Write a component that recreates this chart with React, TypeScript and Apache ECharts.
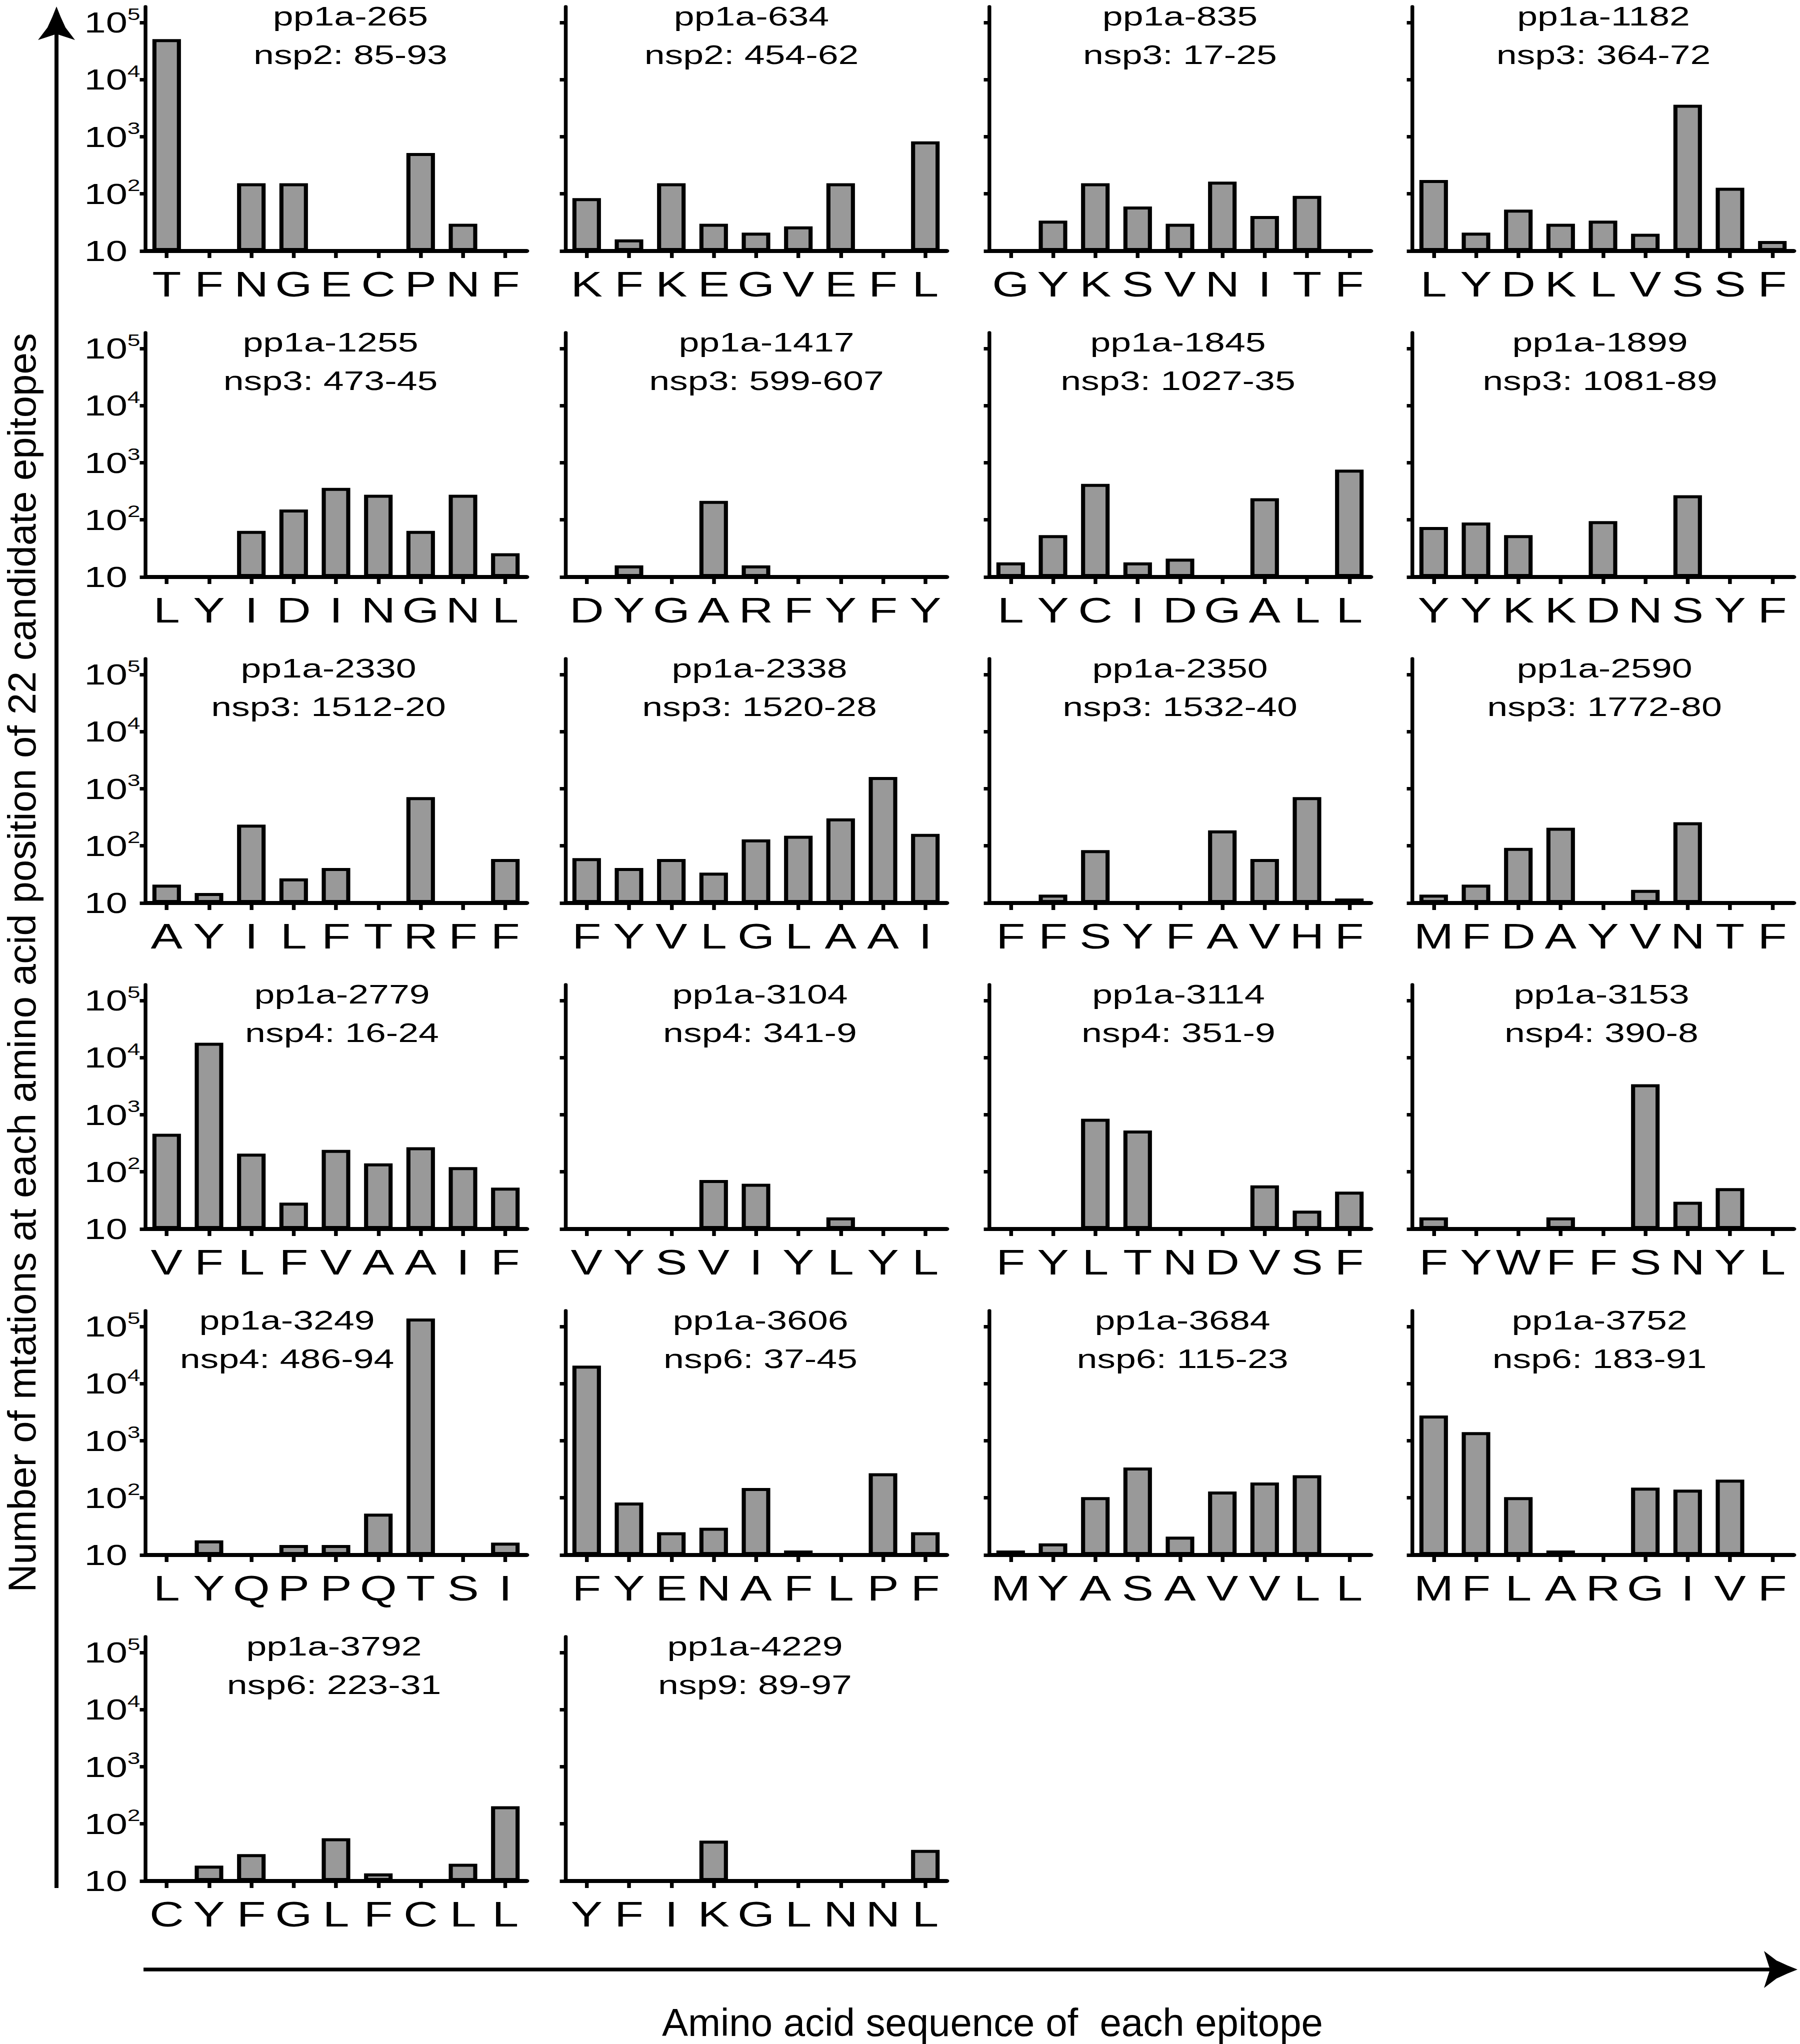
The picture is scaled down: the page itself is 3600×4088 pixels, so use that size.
import React, { useEffect, useRef } from 'react';
import * as echarts from 'echarts';

// ---------------- data ----------------
const epitopeNames = [
  'pp1a-265', 'pp1a-634', 'pp1a-835', 'pp1a-1182',
  'pp1a-1255', 'pp1a-1417', 'pp1a-1845', 'pp1a-1899',
  'pp1a-2330', 'pp1a-2338', 'pp1a-2350', 'pp1a-2590',
  'pp1a-2779', 'pp1a-3104', 'pp1a-3114', 'pp1a-3153',
  'pp1a-3249', 'pp1a-3606', 'pp1a-3684', 'pp1a-3752',
  'pp1a-3792', 'pp1a-4229',
];

const epitopeRanges = [
  'nsp2: 85-93', 'nsp2: 454-62', 'nsp3: 17-25', 'nsp3: 364-72',
  'nsp3: 473-45', 'nsp3: 599-607', 'nsp3: 1027-35', 'nsp3: 1081-89',
  'nsp3: 1512-20', 'nsp3: 1520-28', 'nsp3: 1532-40', 'nsp3: 1772-80',
  'nsp4: 16-24', 'nsp4: 341-9', 'nsp4: 351-9', 'nsp4: 390-8',
  'nsp4: 486-94', 'nsp6: 37-45', 'nsp6: 115-23', 'nsp6: 183-91',
  'nsp6: 223-31', 'nsp9: 89-97',
];

const epitopeResidues = [
  ['T', 'F', 'N', 'G', 'E', 'C', 'P', 'N', 'F'],
  ['K', 'F', 'K', 'E', 'G', 'V', 'E', 'F', 'L'],
  ['G', 'Y', 'K', 'S', 'V', 'N', 'I', 'T', 'F'],
  ['L', 'Y', 'D', 'K', 'L', 'V', 'S', 'S', 'F'],
  ['L', 'Y', 'I', 'D', 'I', 'N', 'G', 'N', 'L'],
  ['D', 'Y', 'G', 'A', 'R', 'F', 'Y', 'F', 'Y'],
  ['L', 'Y', 'C', 'I', 'D', 'G', 'A', 'L', 'L'],
  ['Y', 'Y', 'K', 'K', 'D', 'N', 'S', 'Y', 'F'],
  ['A', 'Y', 'I', 'L', 'F', 'T', 'R', 'F', 'F'],
  ['F', 'Y', 'V', 'L', 'G', 'L', 'A', 'A', 'I'],
  ['F', 'F', 'S', 'Y', 'F', 'A', 'V', 'H', 'F'],
  ['M', 'F', 'D', 'A', 'Y', 'V', 'N', 'T', 'F'],
  ['V', 'F', 'L', 'F', 'V', 'A', 'A', 'I', 'F'],
  ['V', 'Y', 'S', 'V', 'I', 'Y', 'L', 'Y', 'L'],
  ['F', 'Y', 'L', 'T', 'N', 'D', 'V', 'S', 'F'],
  ['F', 'Y', 'W', 'F', 'F', 'S', 'N', 'Y', 'L'],
  ['L', 'Y', 'Q', 'P', 'P', 'Q', 'T', 'S', 'I'],
  ['F', 'Y', 'E', 'N', 'A', 'F', 'L', 'P', 'F'],
  ['M', 'Y', 'A', 'S', 'A', 'V', 'V', 'L', 'L'],
  ['M', 'F', 'L', 'A', 'R', 'G', 'I', 'V', 'F'],
  ['C', 'Y', 'F', 'G', 'L', 'F', 'C', 'L', 'L'],
  ['Y', 'F', 'I', 'K', 'G', 'L', 'N', 'N', 'L'],
];

const mutationCounts = [
  [51000, null, 153, 153, null, null, 520, 30, null],
  [84, 16, 153, 30, 21, 27, 153, null, 830],
  [null, 34, 153, 60, 30, 164, 41, 92, null],
  [175, 21, 53, 30, 34, 20, 3630, 128, 15],
  [null, null, 64, 152, 363, 275, 64, 275, 26],
  [null, 16, null, 215, 16, null, null, null, null],
  [18, 54, 427, 18, 21, null, 239, null, 757],
  [75, 90, 54, null, 95, null, 270, null, null],
  [21, 15, 235, 27, 41, null, 712, null, 59],
  [61, 41, 59, 34, 130, 150, 303, 1600, 162],
  [null, 14, 84, null, null, 187, 59, 712, 12],
  [14, 21, 92, 207, null, 17, 259, null, null],
  [464, 18200, 208, 29, 243, 141, 269, 121, 53],
  [null, null, null, 72, 62, null, 16, null, null],
  [null, null, 852, 530, null, null, 58, 21, 45],
  [16, null, null, 16, null, 3414, 30, 52, null],
  [null, 18, null, 15, 15, 53, 137700, null, 16.5],
  [20600, 83, 25, 30, 149, 12, null, 269, 25],
  [12, 16, 103, 340, 21, 129, 186, 249, null],
  [2760, 1416, 103, 12, null, 151, 139, 209, null],
  [null, 18.6, 29.6, null, 56, 13.6, null, 20, 203],
  [null, null, null, 51, null, null, null, null, 35],
];

const yTickValues = [10, 100, 1000, 10000, 100000];
const yMin = 10;
const yMax = 190000;

const yAxisTitle = 'Number of mtations at each amino acid position of 22 candidate epitopes';
const xAxisTitle = 'Amino acid sequence of  each epitope';

// ---------------- layout (reference pixels) ----------------
const K = 1.36; // horizontal stretch of the panels
const PAGE_W = 3600;
const PAGE_H = 4088;
const CHART_W = PAGE_W / K;
const colLeft = [291, 1131, 1979, 2825];
const plotW = 762;
const rowBase0 = 502;
const rowPitch = 652;
const plotH = 489;
const titleShift = [29, -9, 0, 1, -11, 21, -4, -6, -15, 7, 0, 3, 12, 8, -3, -3, -98, 9, 5, -7, -4, -2];

const FONT = "'Liberation Sans', Arial, Helvetica, sans-serif";

function buildOption() {
  const grid: any[] = [];
  const xAxis: any[] = [];
  const yAxis: any[] = [];
  const series: any[] = [];
  const graphic: any[] = [];

  epitopeNames.forEach((name, i) => {
    const r = Math.floor(i / 4);
    const c = i % 4;
    const base = rowBase0 + rowPitch * r;
    grid.push({
      left: colLeft[c] / K,
      top: base - plotH,
      width: plotW / K,
      height: plotH,
      containLabel: false,
      outerBoundsMode: 'none',
    });
    xAxis.push({
      type: 'category',
      gridIndex: i,
      data: epitopeResidues[i],
      axisLine: { show: true, onZero: false, lineStyle: { color: '#000', width: 8 } },
      axisTick: { show: true, alignWithLabel: true, interval: 0, length: 14, lineStyle: { color: '#000', width: 5.5 } },
      axisLabel: {
        show: true, interval: 0, margin: 32, color: '#000',
        fontSize: 70, lineHeight: 70, fontFamily: FONT,
      },
      splitLine: { show: false },
    });
    yAxis.push({
      type: 'log',
      logBase: 10,
      gridIndex: i,
      min: yMin,
      max: yMax,
      startValue: yMin,
      axisLine: { show: true, lineStyle: { color: '#000', width: 5.5 } },
      axisTick: { show: true, length: 8.4, customValues: yTickValues, lineStyle: { color: '#000', width: 7 } },
      axisLabel: {
        show: c === 0,
        customValues: yTickValues,
        align: 'left',
        margin: 90,
        color: '#000',
        fontFamily: FONT,
        formatter: (v: number) => {
          const e = Math.round(Math.log10(v));
          return e === 1 ? '{b|10}' : '{b|10}{s|' + e + '}';
        },
        rich: {
          b: { fontSize: 57, lineHeight: 57, fontFamily: FONT, color: '#000' },
          s: { fontSize: 34, padding: [0, 0, 34, 0], fontFamily: FONT, color: '#000' },
        },
      },
      splitLine: { show: false },
      minorTick: { show: false },
    });
    series.push({
      type: 'bar',
      xAxisIndex: i,
      yAxisIndex: i,
      data: mutationCounts[i],
      barWidth: 42,
      clip: true,
      silent: true,
      itemStyle: { color: '#999999', borderColor: '#000', borderWidth: 6 },
    });
    graphic.push({
      type: 'text',
      silent: true,
      x: (colLeft[c] + plotW / 2 + titleShift[i]) / K,
      y: base - 430.5,
      style: {
        text: name + '\n' + epitopeRanges[i],
        fill: '#000',
        fontSize: 54,
        fontFamily: FONT,
        lineHeight: 77,
        align: 'center',
        verticalAlign: 'middle',
        textAlign: 'center',
        textVerticalAlign: 'middle',
      },
    });
  });

  // vertical arrow
  const vx = 113;
  const vTip = 13;
  graphic.push({
    type: 'line', silent: true,
    shape: { x1: vx / K, y1: vTip + 55, x2: vx / K, y2: 3776 },
    style: { stroke: '#000', lineWidth: 8 / K },
  });
  const vHead = [[0, 0], [8, 20], [18, 42], [37, 67], [0, 55], [-37, 67], [-18, 42], [-8, 20]];
  graphic.push({
    type: 'polygon', silent: true,
    shape: { points: vHead.map(([dx, dy]) => [(vx + dx) / K, vTip + dy]) },
    style: { fill: '#000' },
  });
  // horizontal arrow
  const hy = 3939;
  const hTip = 3595;
  graphic.push({
    type: 'line', silent: true,
    shape: { x1: 287 / K, y1: hy, x2: (hTip - 55) / K, y2: hy },
    style: { stroke: '#000', lineWidth: 7.5 },
  });
  const hHead = [[0, 0], [-20, 8], [-42, 18], [-67, 37], [-55, 0], [-67, -37], [-42, -18], [-20, -8]];
  graphic.push({
    type: 'polygon', silent: true,
    shape: { points: hHead.map(([dx, dy]) => [(hTip + dx) / K, hy + dy]) },
    style: { fill: '#000' },
  });
  // axis titles (un-stretched)
  graphic.push({
    type: 'text', silent: true,
    x: 44 / K, y: 1925.5,
    rotation: Math.PI / 2,
    scaleX: 1, scaleY: 1 / K,
    style: {
      text: yAxisTitle, fill: '#000', fontSize: 78, fontFamily: FONT,
      align: 'center', verticalAlign: 'middle', textAlign: 'center', textVerticalAlign: 'middle',
    },
  });
  graphic.push({
    type: 'text', silent: true,
    x: 1985 / K, y: 4045,
    scaleX: 1 / K, scaleY: 1,
    style: {
      text: xAxisTitle, fill: '#000', fontSize: 78, fontFamily: FONT,
      align: 'center', verticalAlign: 'middle', textAlign: 'center', textVerticalAlign: 'middle',
    },
  });

  return {
    animation: false,
    backgroundColor: '#ffffff',
    textStyle: { fontFamily: FONT },
    grid,
    xAxis,
    yAxis,
    series,
    graphic,
  };
}

export default function App() {
  const ref = useRef<HTMLDivElement | null>(null);
  useEffect(() => {
    document.body.style.margin = '0';
    if (!ref.current) return;
    const chart = echarts.init(ref.current, null, { renderer: 'svg' });
    chart.setOption(buildOption() as any);
    return () => {
      chart.dispose();
    };
  }, []);
  return (
    <div style={{ width: PAGE_W, height: PAGE_H, overflow: 'hidden', position: 'relative', background: '#fff' }}>
      <div
        ref={ref}
        style={{
          width: CHART_W,
          height: PAGE_H,
          transform: `scaleX(${K})`,
          transformOrigin: '0 0',
        }}
      />
    </div>
  );
}
